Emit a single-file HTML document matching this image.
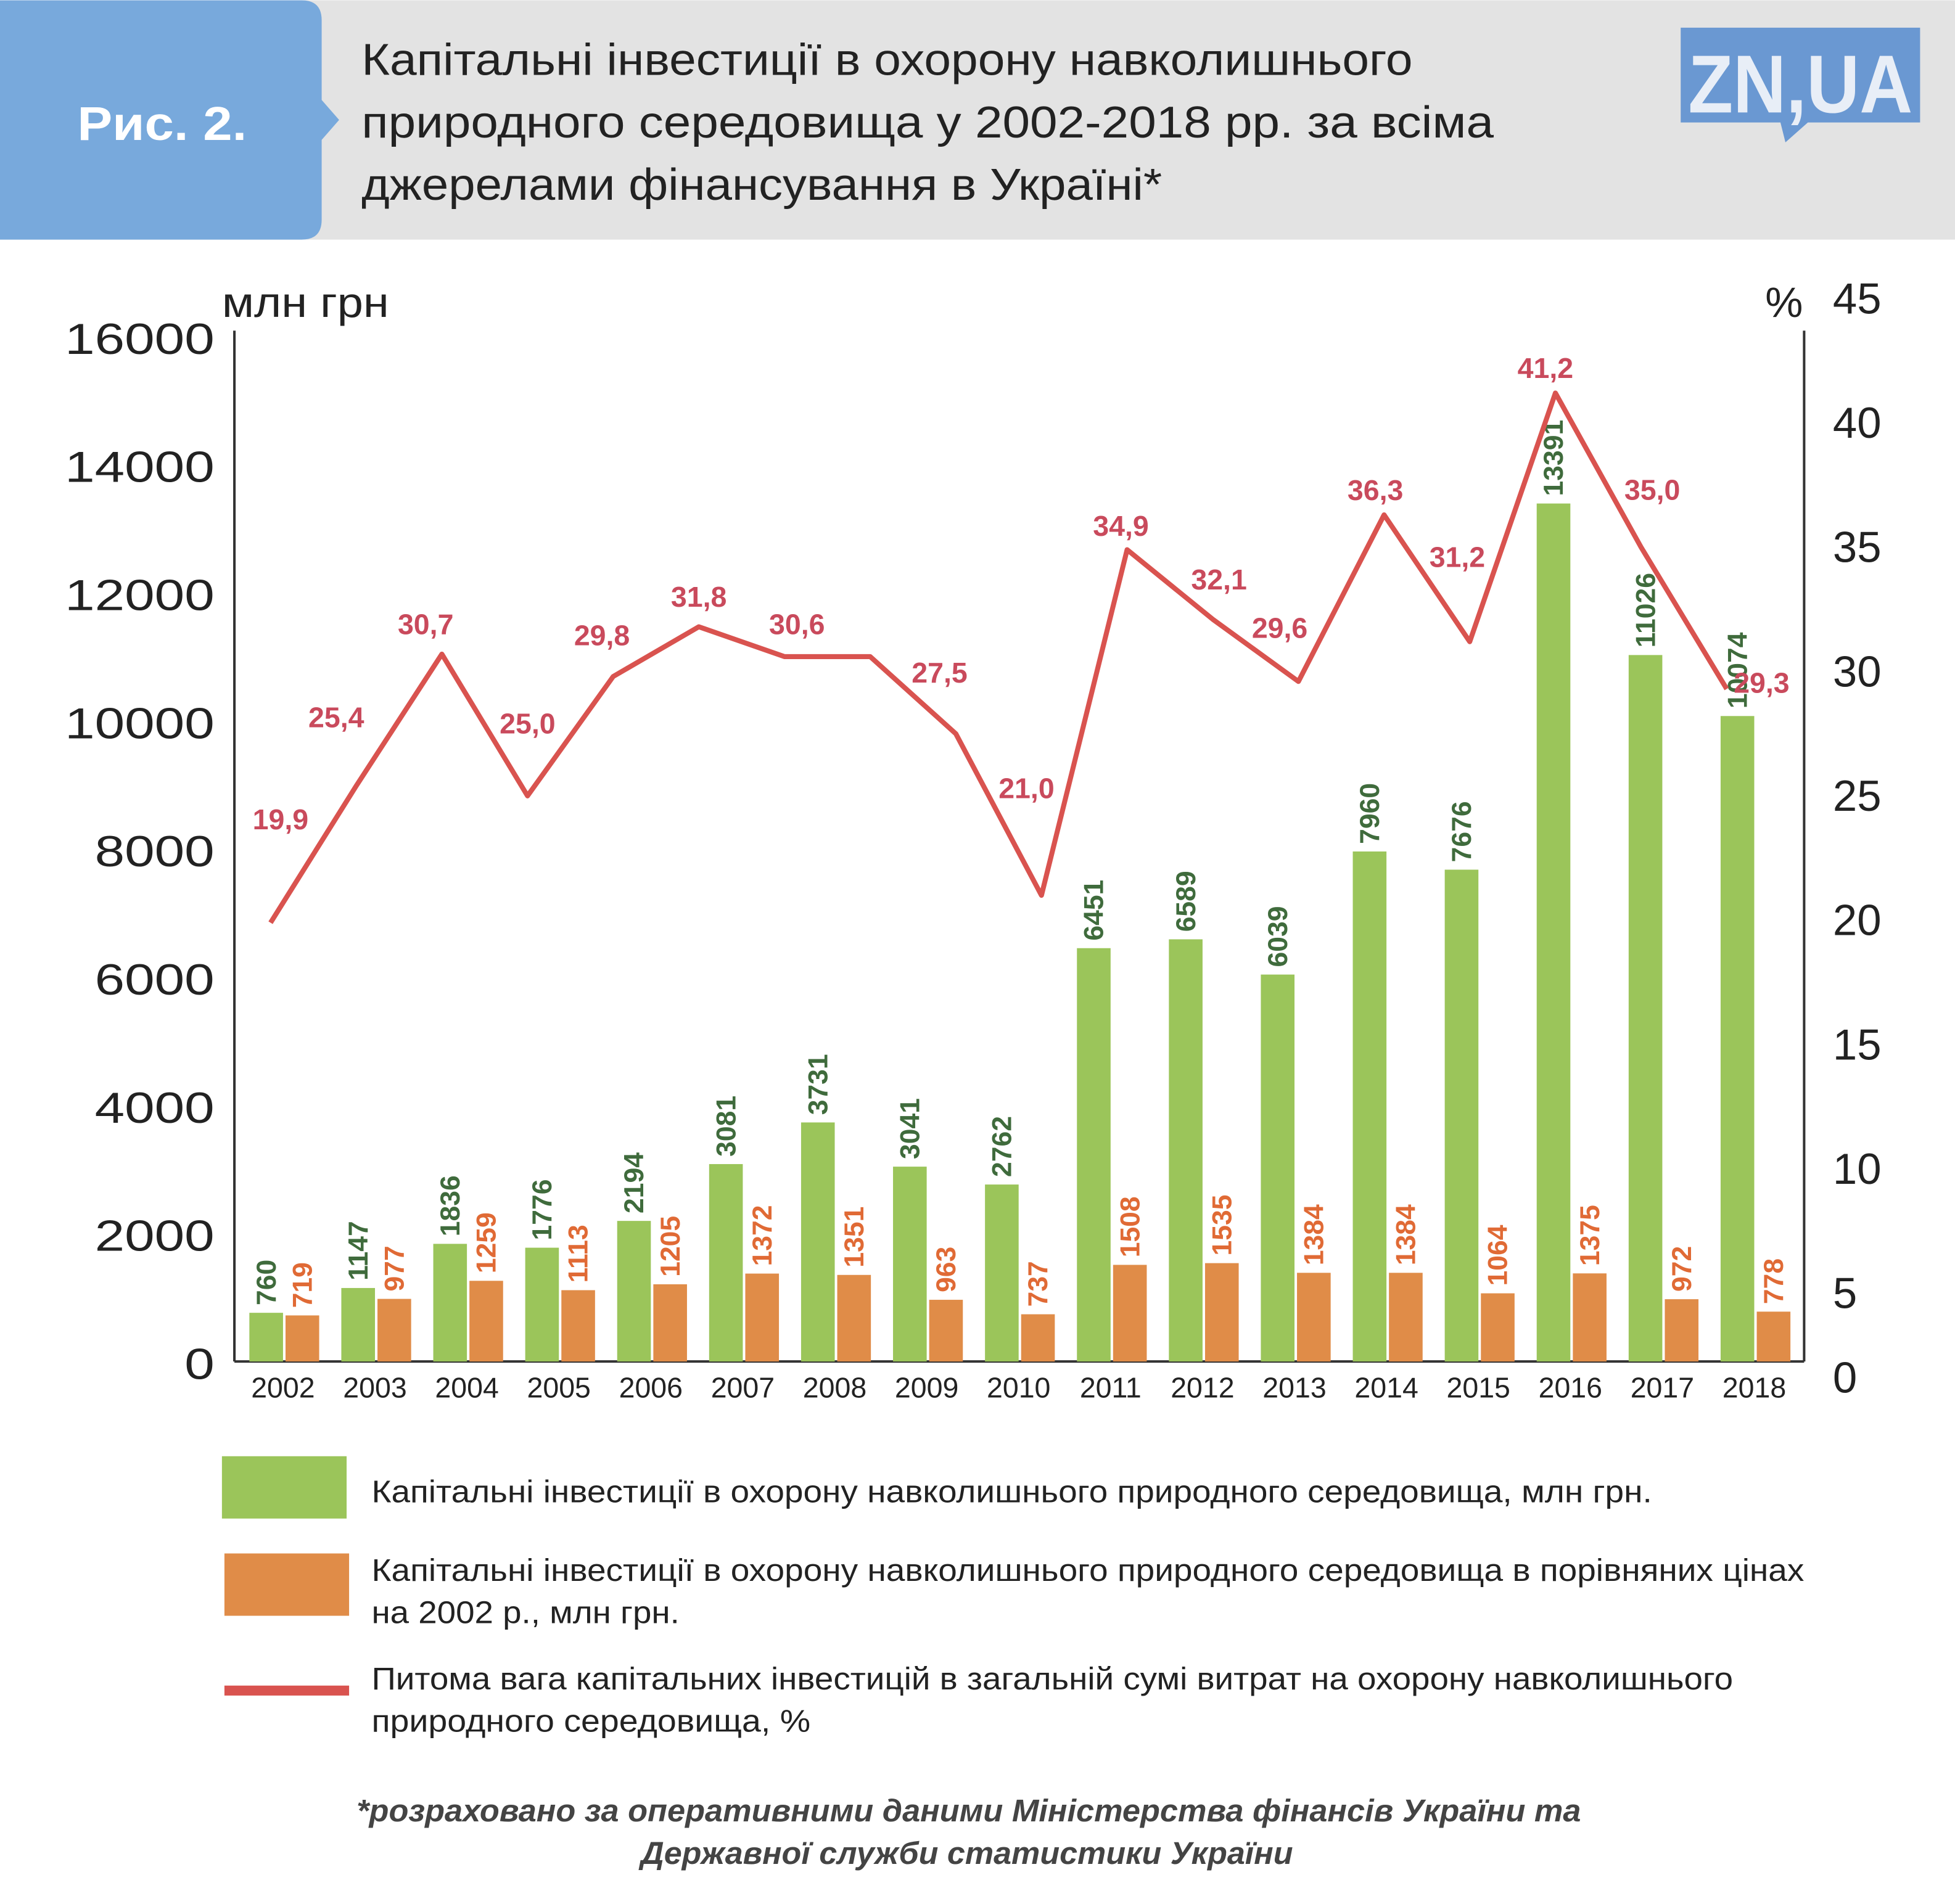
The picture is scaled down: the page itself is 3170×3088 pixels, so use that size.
<!DOCTYPE html>
<html><head><meta charset="utf-8">
<style>
html,body{margin:0;padding:0;background:#fff;}
svg{display:block;font-family:"Liberation Sans","DejaVu Sans",sans-serif;}
</style></head>
<body>
<svg id="chart" width="3170" height="3088" viewBox="0 0 1568 1527" xmlns="http://www.w3.org/2000/svg">
  <rect x="0" y="0" width="1568" height="192" fill="#e3e3e3"/>
  <path d="M0 0 H242 Q258 0 258 16 V80 L272 96 L258 112 V176 Q258 192 242 192 H0 Z" fill="#78a9dc"/>
  <text x="62" y="112" font-size="38" font-weight="bold" fill="#fff" textLength="136" lengthAdjust="spacingAndGlyphs">Рис. 2.</text>
  <g font-size="36" fill="#222">
    <text x="290" y="60" textLength="843" lengthAdjust="spacingAndGlyphs">Капітальні інвестиції в охорону навколишнього</text>
    <text x="290" y="110" textLength="908" lengthAdjust="spacingAndGlyphs">природного середовища у 2002-2018 рр. за всіма</text>
    <text x="290" y="160" textLength="642" lengthAdjust="spacingAndGlyphs">джерелами фінансування в Україні*</text>
  </g>
  <g>
    <path d="M1348 22 H1540 V98 H1450 L1432 114 L1428 98 H1348 Z" fill="#6a98d2"/>
    <text x="1444" y="90" text-anchor="middle" font-size="66" font-weight="bold" fill="#e8eef7" textLength="180" lengthAdjust="spacingAndGlyphs">ZN,UA</text>
  </g>
  <text x="178" y="254" font-size="34" fill="#222" textLength="134" lengthAdjust="spacingAndGlyphs">млн грн</text>
  <text x="1446" y="254" font-size="34" fill="#222" text-anchor="end">%</text>
  <line x1="188" y1="265" x2="188" y2="1092" stroke="#333" stroke-width="2"/>
  <line x1="1447" y1="265" x2="1447" y2="1092" stroke="#333" stroke-width="2"/>
  <line x1="188" y1="1092" x2="1447" y2="1092" stroke="#333" stroke-width="2"/>
  <g id="plot"></g>
  <g>
    <rect x="178" y="1168" width="100" height="50" fill="#9bc55a"/>
    <rect x="180" y="1246" width="100" height="50" fill="#e08c48"/>
    <rect x="180" y="1352" width="100" height="8" fill="#d9534f"/>
    <g font-size="25" fill="#222">
      <text x="298" y="1205" textLength="1027" lengthAdjust="spacingAndGlyphs">Капітальні інвестиції в охорону навколишнього природного середовища, млн грн.</text>
      <text x="298" y="1268" textLength="1149" lengthAdjust="spacingAndGlyphs">Капітальні інвестиції в охорону навколишнього природного середовища в порівняних цінах</text>
      <text x="298" y="1302" textLength="247" lengthAdjust="spacingAndGlyphs">на 2002 р., млн грн.</text>
      <text x="298" y="1355" textLength="1092" lengthAdjust="spacingAndGlyphs">Питома вага капітальних інвестицій в загальній сумі витрат на охорону навколишнього</text>
      <text x="298" y="1389" textLength="352" lengthAdjust="spacingAndGlyphs">природного середовища, %</text>
    </g>
  </g>
  <g font-size="25" font-weight="bold" font-style="italic" fill="#444">
    <text x="286" y="1461" textLength="982" lengthAdjust="spacingAndGlyphs">*розраховано за оперативними даними Міністерства фінансів України та</text>
    <text x="514" y="1495" textLength="523" lengthAdjust="spacingAndGlyphs">Державної служби статистики України</text>
  </g>
</svg>
<script>
const years = [2002,2003,2004,2005,2006,2007,2008,2009,2010,2011,2012,2013,2014,2015,2016,2017,2018];
const greenValues = [760,1147,1836,1776,2194,3081,3731,3041,2762,6451,6589,6039,7960,7676,13391,11026,10074];
const orangeValues = [719,977,1259,1113,1205,1372,1351,963,737,1508,1535,1384,1384,1064,1375,972,778];
const pctValues = [19.9,25.4,30.7,25.0,29.8,31.8,30.6,27.5,21.0,34.9,32.1,29.6,36.3,31.2,41.2,35.0,29.3];
const leftTicks = [0,2000,4000,6000,8000,10000,12000,14000,16000];
const rightTicks = [0,5,10,15,20,25,30,35,40,45];

const NS = 'http://www.w3.org/2000/svg';
const plot = document.getElementById('plot');
const yL = v => 1092 - v * 0.0514;
const yR = v => 1137 - v * 19.95;
const xG = i => 200 + i * 73.75;
const xLine = k => 217 + k * 68.7;
const fmt = v => v.toFixed(1).replace('.', ',');
// label placement offsets (layout only)
const offX = [8,-16,-13,0,-9,0,10,-13,-12,-5,5,-15,-7,-10,-8,9,28];
const offY = [-83,-55,-24,-58,-33,-24,-26,-49,-86,-19,-32,-43,-20,-68,-20,-46,-5];
function mk(tag, attrs, text) {
  const e = document.createElementNS(NS, tag);
  for (const k in attrs) e.setAttribute(k, attrs[k]);
  if (text !== undefined) e.textContent = text;
  plot.appendChild(e);
  return e;
}
leftTicks.forEach(v => {
  const s = String(v);
  const t = mk('text', {x: 172, y: yL(v) + 14, 'text-anchor': 'end', 'font-size': 35, fill: '#222', textLength: 24 * s.length, lengthAdjust: 'spacingAndGlyphs'}, s);
  
  
});
rightTicks.forEach(v => {
  const t = mk('text', {x: 1470, y: Math.min(yR(v), 1105) + 12, 'font-size': 35, fill: '#222'}, String(v));
  
  
});
years.forEach((yr, i) => {
  const x = xG(i);
  const g = greenValues[i], o = orangeValues[i];
  const b1 = mk('rect', {x: x, y: yL(g), width: 27, height: 1092 - yL(g), fill: '#9bc55a'});
  
  
  const b2 = mk('rect', {x: x + 29, y: yL(o), width: 27, height: 1092 - yL(o), fill: '#e08c48'});
  
  
  const l1 = mk('text', {transform: `translate(${x + 21},${yL(g) - 6}) rotate(-90)`, 'font-size': 22, 'font-weight': 'bold', fill: '#3f6b3c'}, String(g));
  
  
  const l2 = mk('text', {transform: `translate(${x + 50},${yL(o) - 6}) rotate(-90)`, 'font-size': 22, 'font-weight': 'bold', fill: '#e06a35'}, String(o));
  
  
  const yl = mk('text', {x: x + 27, y: 1121, 'text-anchor': 'middle', 'font-size': 23, fill: '#222'}, String(yr));
  
  
});
// line: the original graphic repeats the 2008 vertex (flat segment)
const vIndex = i => (i <= 6 ? i : i + 1);
const linePts = [];
pctValues.forEach((v, i) => {
  linePts.push([xLine(vIndex(i)), yR(v)]);
  if (i === 6) linePts.push([xLine(7), yR(v)]);
});
const line = mk('polyline', {points: linePts.map(p => p.join(',')).join(' '), fill: 'none', stroke: '#d9534f', 'stroke-width': 4, 'stroke-linejoin': 'round'});


pctValues.forEach((v, i) => {
  const px = xLine(vIndex(i)), py = yR(v);
  const t = mk('text', {x: px + offX[i], y: py + offY[i] + 8, 'text-anchor': 'middle', 'font-size': 23, 'font-weight': 'bold', fill: '#c94a5c'}, fmt(v));
  
  
});
</script>
</body></html>
